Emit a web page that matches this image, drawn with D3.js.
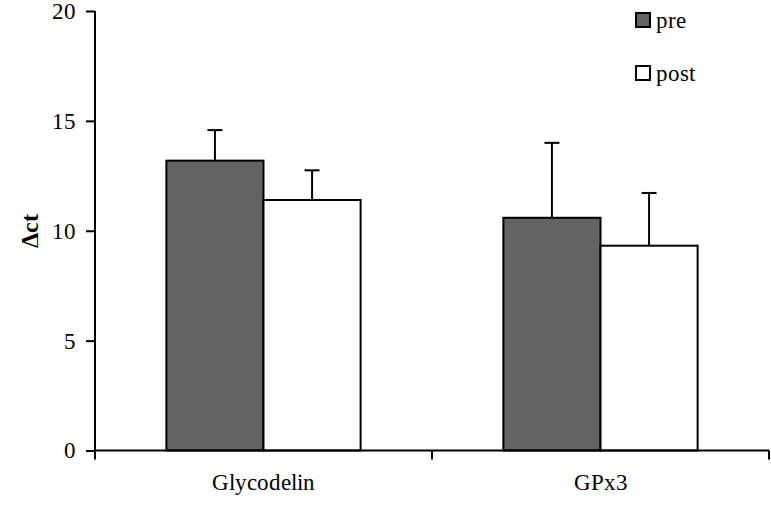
<!DOCTYPE html>
<html><head><meta charset="utf-8">
<script src="https://cdn.jsdelivr.net/npm/d3@7"></script>
<style>
@font-face{font-family:"ChartSerif";src:local("Liberation Serif"),local("LiberationSerif"),local("Times New Roman");font-weight:400;}
@font-face{font-family:"ChartSerif";src:local("Liberation Serif Bold"),local("LiberationSerif-Bold"),local("Times New Roman Bold");font-weight:700;}
</style>
</head><body style="margin:0">
<svg id="c" width="771" height="507" font-family="ChartSerif, Liberation Serif, Times New Roman, serif"></svg>
<script>
const categories = ["Glycodelin", "GPx3"];
const seriesNames = ["pre", "post"];
const preValues = [13.19, 10.59];
const postValues = [11.40, 9.32];
const preErr = [1.39, 3.41];
const postErr = [1.35, 2.40];
const yTicks = [0, 5, 10, 15, 20];
const colors = {pre: "#636363", post: "#ffffff"};
const FONT = "ChartSerif, Liberation Serif, Times New Roman, serif";

const svg = d3.select("#c");
const m = {l: 95, r: 769, t: 11, b: 450.5};
const x = d3.scaleBand().domain(categories).range([m.l, m.r]).paddingInner(0).paddingOuter(0);
const xs = d3.scaleBand().domain(seriesNames).range([0, x.bandwidth()]).paddingInner(0).paddingOuter(0.735);
const y = d3.scaleLinear().domain([0, 20]).range([m.b, m.t]);

const data = [];
categories.forEach((c, i) => {
  data.push({c, s: "pre", v: preValues[i], e: preErr[i]});
  data.push({c, s: "post", v: postValues[i], e: postErr[i]});
});

const eg = svg.append("g");
data.forEach(d => {
  const cx = x(d.c) + xs(d.s) + xs.bandwidth() / 2;
  eg.append("line").attr("x1", cx).attr("x2", cx).attr("y1", y(d.v)).attr("y2", y(d.v + d.e))
    .attr("stroke", "#000").attr("stroke-width", 2);
  eg.append("line").attr("x1", cx - 7.5).attr("x2", cx + 7.5).attr("y1", y(d.v + d.e)).attr("y2", y(d.v + d.e))
    .attr("stroke", "#000").attr("stroke-width", 2);
});

svg.append("g").selectAll("rect").data(data).join("rect")
  .attr("x", d => x(d.c) + xs(d.s))
  .attr("width", xs.bandwidth())
  .attr("y", d => y(d.v))
  .attr("height", d => y(0) - y(d.v))
  .attr("fill", d => colors[d.s])
  .attr("stroke", "#000").attr("stroke-width", 2);

const ya = svg.append("g").attr("transform", `translate(${m.l},0)`)
  .call(d3.axisLeft(y).tickValues(yTicks).tickSize(9).tickPadding(10).tickFormat(d3.format("d")));
ya.attr("font-family", FONT).attr("font-size", 23);
ya.selectAll("path.domain").attr("d", `M0,${y(20)}V${y(0)}`).attr("stroke", "#000").attr("stroke-width", 2);
ya.selectAll(".tick line").attr("stroke", "#000").attr("stroke-width", 2);
ya.selectAll(".tick text").attr("font-family", FONT).attr("font-size", 23).attr("fill", "#000");

const xa = svg.append("g").attr("transform", `translate(0,${y(0)})`);
xa.append("line").attr("x1", m.l).attr("x2", m.r).attr("stroke", "#000").attr("stroke-width", 2);
const tickXs = [m.l, ...categories.map(c => x(c) + x.bandwidth())];
tickXs.forEach(tx => xa.append("line").attr("x1", tx).attr("x2", tx).attr("y1", 0).attr("y2", 9)
  .attr("stroke", "#000").attr("stroke-width", 2));
categories.forEach(c => xa.append("text").attr("x", x(c) + x.bandwidth() / 2).attr("y", 39)
  .attr("text-anchor", "middle").attr("font-size", 23).attr("font-family", FONT).text(c));

svg.append("text").attr("transform", `translate(38,${(m.t + m.b) / 2}) rotate(-90)`)
  .attr("text-anchor", "middle").attr("font-size", 24).attr("font-weight", "bold")
  .attr("font-family", FONT).text("\u0394ct");

const lg = svg.append("g");
seriesNames.forEach((s, i) => {
  const ly = 13 + i * 53;
  lg.append("rect").attr("x", 636).attr("y", ly).attr("width", 14).attr("height", 14)
    .attr("fill", colors[s]).attr("stroke", "#000").attr("stroke-width", 2);
  lg.append("text").attr("x", 656).attr("y", ly + 15).attr("font-size", 23)
    .attr("font-family", FONT).text(s);
});
</script>
</body></html>
